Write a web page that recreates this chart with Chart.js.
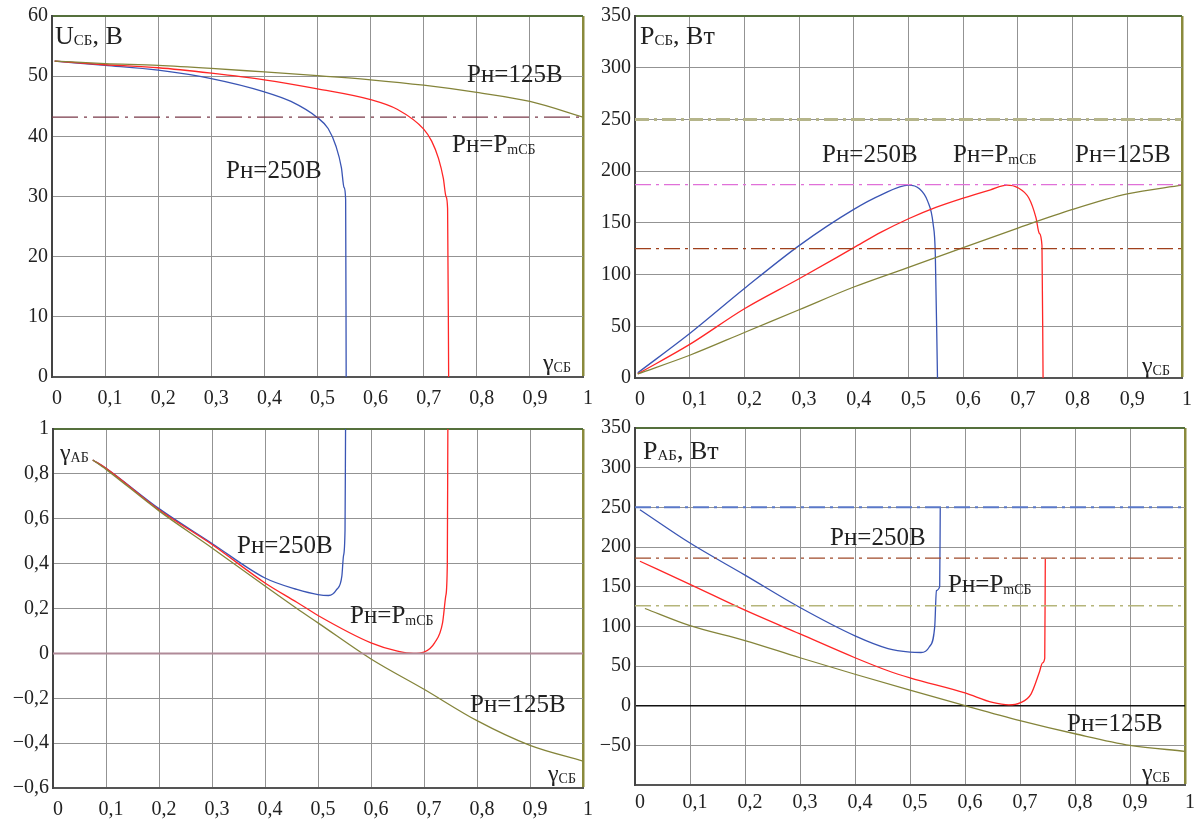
<!DOCTYPE html>
<html>
<head>
<meta charset="utf-8">
<script src="https://cdn.jsdelivr.net/npm/chart.js@4"></script>
<style>
  body { margin: 0; background: #fff; }
  #wrap { position: relative; width: 1197px; height: 819px; overflow: hidden; }
  canvas { position: absolute; }
  .lb { position: absolute; font-family: 'Liberation Serif', serif; line-height: 1; color: #222; white-space: nowrap; font-size: 25px; }
  .lb .s { font-size: 14px; position: relative; top: 2px; }
  .lb .t { font-size: 15px; position: relative; top: 1px; }
</style>
</head>
<body>
<div id="wrap">
  <canvas id="cU" width="598" height="412" style="left:0;top:0"></canvas>
  <canvas id="cP" width="599" height="412" style="left:598px;top:0"></canvas>
  <canvas id="cG" width="598" height="407" style="left:0;top:412px"></canvas>
  <canvas id="cA" width="599" height="407" style="left:598px;top:412px"></canvas>

  <div class="lb" style="left:55px;top:23px;font-size:26px">U<span class="t">СБ</span>, В</div>
  <div class="lb" style="left:226px;top:157px">Pн=250В</div>
  <div class="lb" style="left:467px;top:61px">Pн=125В</div>
  <div class="lb" style="left:452px;top:131px">Pн=P<span class="s">mСБ</span></div>
  <div class="lb" style="left:543px;top:350px;font-size:24px">γ<span class="s">СБ</span></div>

  <div class="lb" style="left:640px;top:23px;font-size:26px">P<span class="t">СБ</span>, Вт</div>
  <div class="lb" style="left:822px;top:141px">Pн=250В</div>
  <div class="lb" style="left:953px;top:141px">Pн=P<span class="s">mСБ</span></div>
  <div class="lb" style="left:1075px;top:141px">Pн=125В</div>
  <div class="lb" style="left:1142px;top:353px;font-size:24px">γ<span class="s">СБ</span></div>

  <div class="lb" style="left:60px;top:440px;font-size:24px">γ<span class="s">АБ</span></div>
  <div class="lb" style="left:237px;top:532px">Pн=250В</div>
  <div class="lb" style="left:350px;top:602px">Pн=P<span class="s">mСБ</span></div>
  <div class="lb" style="left:470px;top:691px">Pн=125В</div>
  <div class="lb" style="left:548px;top:761px;font-size:24px">γ<span class="s">СБ</span></div>

  <div class="lb" style="left:643px;top:438px;font-size:26px">P<span class="t">АБ</span>, Вт</div>
  <div class="lb" style="left:830px;top:524px">Pн=250В</div>
  <div class="lb" style="left:948px;top:571px">Pн=P<span class="s">mСБ</span></div>
  <div class="lb" style="left:1067px;top:710px">Pн=125В</div>
  <div class="lb" style="left:1142px;top:760px;font-size:24px">γ<span class="s">СБ</span></div>
</div>
<script>
// U_СБ(γ_СБ)
const uG250 = [0.005, 0.1, 0.2, 0.3, 0.4, 0.45, 0.5, 0.52, 0.535, 0.545, 0.55, 0.553, 0.554];
const uV250 = [52.5, 51.8, 51.0, 49.6, 47.4, 45.8, 43.1, 41.3, 38.3, 34.8, 31.5, 29.5, 0];
const uGm = [0.005, 0.1, 0.2, 0.3, 0.4, 0.5, 0.6, 0.65, 0.7, 0.715, 0.728, 0.737, 0.742, 0.745, 0.747];
const uVm = [52.5, 51.9, 51.4, 50.5, 49.4, 47.9, 46.1, 44.5, 41.2, 39.2, 36.3, 33.0, 30.0, 28.0, 0];
const uG125 = [0.005, 0.1, 0.2, 0.3, 0.4, 0.5, 0.6, 0.7, 0.8, 0.9, 1.0];
const uV125 = [52.5, 52.1, 51.8, 51.3, 50.7, 50.1, 49.4, 48.5, 47.3, 45.8, 43.2];
const uRef = 43.2;

// P_СБ(γ_СБ)
const pG250 = [0.005, 0.1, 0.2, 0.3, 0.4, 0.45, 0.5, 0.52, 0.535, 0.545, 0.549, 0.553];
const pV250 = [5, 43, 86.5, 128, 163, 177, 186.5, 183, 171, 149, 120, 0];
const pGm = [0.005, 0.1, 0.2, 0.3, 0.4, 0.45, 0.5, 0.55, 0.6, 0.65, 0.68, 0.7, 0.72, 0.733, 0.739, 0.744, 0.746];
const pVm = [4, 32.5, 67, 96, 126, 141, 154, 165, 174, 182, 186.5, 184, 174, 155, 140, 128, 0];
const pG125 = [0.005, 0.1, 0.2, 0.3, 0.4, 0.5, 0.6, 0.7, 0.8, 0.9, 1.0];
const pV125 = [4, 22, 44, 66, 88, 107, 126, 145, 163, 178, 186.5];
const pRefs = [250, 187, 125];

// γ_АБ(γ_СБ)
const aG250 = [0.075, 0.1, 0.2, 0.3, 0.4, 0.46, 0.5, 0.52, 0.535, 0.545, 0.548, 0.551, 0.552];
const aV250 = [0.862, 0.825, 0.645, 0.49, 0.336, 0.285, 0.262, 0.258, 0.284, 0.344, 0.433, 0.55, 1.0];
const aGm = [0.075, 0.1, 0.2, 0.3, 0.4, 0.46, 0.5, 0.6, 0.65, 0.68, 0.7, 0.72, 0.735, 0.741, 0.744, 0.745];
const aVm = [0.862, 0.825, 0.64, 0.485, 0.314, 0.228, 0.169, 0.047, 0.01, 0, 0.006, 0.047, 0.136, 0.255, 0.4, 1.0];
const aG125 = [0.075, 0.1, 0.2, 0.3, 0.4, 0.46, 0.5, 0.6, 0.7, 0.8, 0.9, 1.0];
const aV125 = [0.862, 0.82, 0.635, 0.47, 0.30, 0.2, 0.136, -0.025, -0.16, -0.30, -0.41, -0.48];
const aRef = 0;

// P_АБ(γ_СБ)
const bG250 = [0.009, 0.1, 0.2, 0.3, 0.4, 0.46, 0.5, 0.52, 0.535, 0.545, 0.548, 0.554, 0.555];
const bV250 = [247, 205, 164.6, 123.7, 88, 72, 67.5, 67, 74, 100, 145, 150, 250];
const bGm = [0.009, 0.1, 0.2, 0.3, 0.4, 0.46, 0.5, 0.6, 0.65, 0.68, 0.7, 0.72, 0.735, 0.741, 0.745, 0.746];
const bVm = [182, 153, 120.4, 90.4, 60.4, 44, 35, 16, 4, 1, 3.5, 14.6, 41.7, 54, 60, 185];
const bG125 = [0.018, 0.1, 0.2, 0.3, 0.4, 0.5, 0.6, 0.7, 0.8, 0.9, 1.0];
const bV125 = [122.5, 100.8, 82, 60.4, 39.6, 19.6, 0, -18.8, -35.4, -50, -57.5];
const bRefs = [250, 186, 126];

const BLUE = '#3a55b4', RED = '#ff2626', OLIVE = '#84843a';
const tickFont = { family: 'Liberation Serif', size: 20 };

function pts(xs, ys) {
  return xs.map((x, i) => ({ x: x, y: ys[i] }));
}
function curve(xs, ys, color) {
  return { data: pts(xs, ys), borderColor: color, borderWidth: 1.3, pointRadius: 0, cubicInterpolationMode: 'monotone' };
}
function refLine(v, color, width, dash) {
  return { data: pts([0, 1], [v, v]), borderColor: color, borderWidth: width, borderDash: dash, pointRadius: 0 };
}
function fmt(v) {
  let s = (Math.round(v * 100) / 100).toString().replace('.', ',');
  if (v < 0) s = '\u2212' + s.slice(1);
  return s;
}

function axisX(h, pad) {
  return {
    type: 'linear', min: 0, max: 1,
    afterFit: s => { s.height = h; },
    ticks: { stepSize: 0.1, callback: fmt, font: tickFont, color: '#222', padding: pad, labelOffset: 5, maxRotation: 0, autoSkip: false },
    grid: { drawTicks: false, color: c => c.tick.value >= 1 ? '#8a8a3c' : '#939393', lineWidth: c => c.tick.value >= 1 ? 2.5 : 1 },
    border: { color: '#555', width: 2 }
  };
}
function axisY(min, max, step, w, hide, zeroColor) {
  return {
    min: min, max: max,
    afterFit: s => { s.width = w; },
    ticks: { stepSize: step, callback: v => v === hide ? '' : fmt(v), font: tickFont, color: '#222', padding: 4, autoSkip: false },
    grid: {
      drawTicks: false,
      color: c => c.tick.value >= max - 1e-9 ? '#55703c' : (zeroColor && c.tick.value === 0 ? zeroColor : '#939393'),
      lineWidth: c => c.tick.value >= max - 1e-9 ? 2 : (zeroColor && c.tick.value === 0 ? 1.5 : 1)
    },
    border: { color: '#444', width: 2 }
  };
}

function makeChart(id, datasets, x, y, padding) {
  new Chart(document.getElementById(id), {
    type: 'line',
    data: { datasets: datasets },
    options: {
      responsive: false,
      animation: false,
      layout: { padding: padding },
      plugins: { legend: { display: false }, tooltip: { enabled: false } },
      scales: { x: x, y: y }
    }
  });
}

makeChart('cU', [
  refLine(uRef, '#7a3a4a', 1.3, [26, 6, 3, 6]),
  curve(uG125, uV125, OLIVE),
  curve(uGm, uVm, RED),
  curve(uG250, uV250, BLUE)
], axisX(35, 10), axisY(0, 60, 10, 52), { left: 0, right: 12, top: 14, bottom: 0 });

makeChart('cP', [
  refLine(pRefs[0], '#b5b58a', 3, [14, 5, 3, 5]),
  refLine(pRefs[1], '#e070d8', 1.3, [16, 5, 3, 5]),
  refLine(pRefs[2], '#a0401c', 1.3, [16, 5, 3, 5]),
  curve(pG125, pV125, OLIVE),
  curve(pGm, pVm, RED),
  curve(pG250, pV250, BLUE)
], axisX(34, 10), axisY(0, 350, 50, 37), { left: 0, right: 14, top: 14, bottom: 0 });

makeChart('cG', [
  refLine(aRef, '#b08a98', 2, []),
  curve(aG125, aV125, OLIVE),
  curve(aGm, aVm, RED),
  curve(aG250, aV250, BLUE)
], axisX(31, 10), axisY(-0.6, 1, 0.2, 53), { left: 0, right: 7, top: 17, bottom: 0 });

makeChart('cA', [
  refLine(bRefs[0], '#5a78c8', 2, [16, 5, 3, 5]),
  refLine(bRefs[1], '#a04a2a', 1.3, [16, 5, 3, 5]),
  refLine(bRefs[2], '#b5b57a', 1.5, [16, 5, 3, 5]),
  curve(bG125, bV125, OLIVE),
  curve(bGm, bVm, RED),
  curve(bG250, bV250, BLUE)
], axisX(34, 6), axisY(-100, 350, 50, 37, -100, '#111'), { left: 0, right: 12, top: 16, bottom: 0 });
</script>
</body>
</html>
